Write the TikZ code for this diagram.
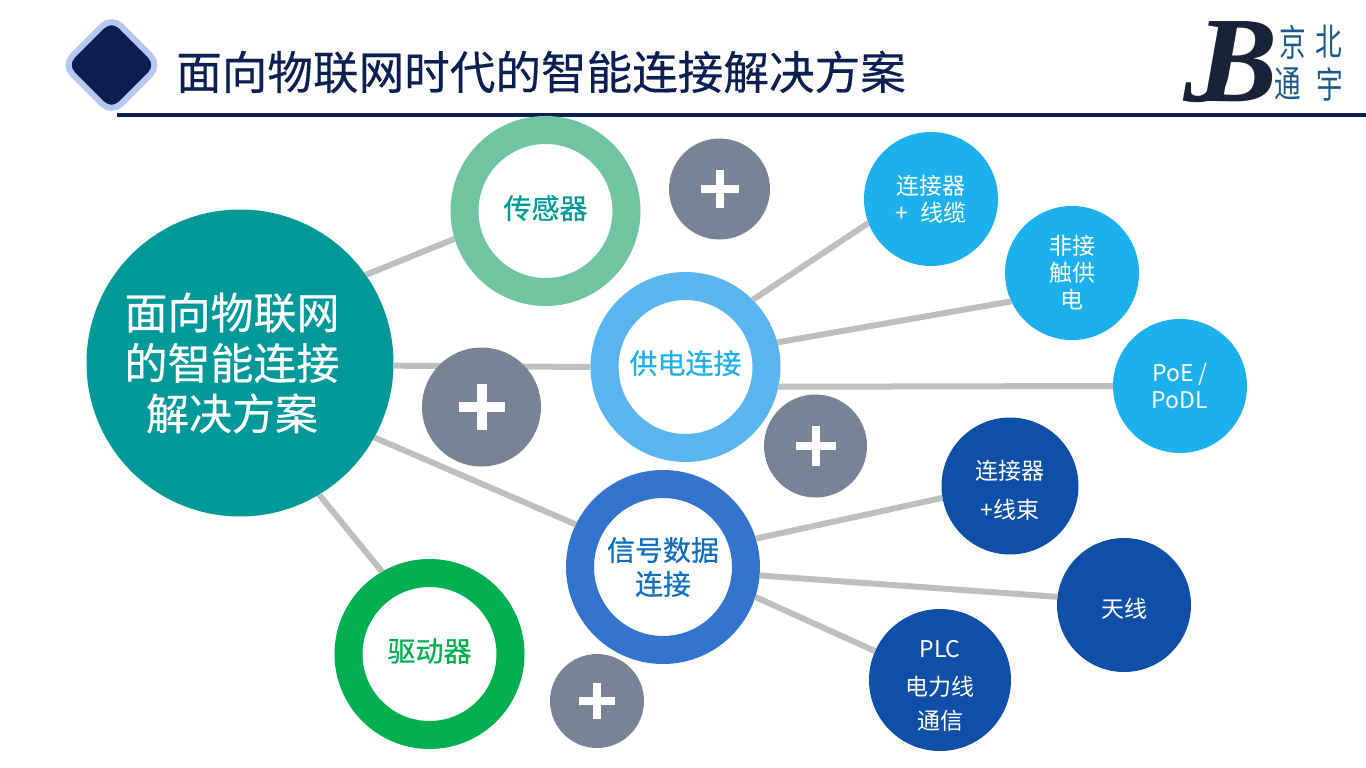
\documentclass[tikz,border=0pt]{standalone}
\usepackage{fontspec}
\setmainfont{Noto Sans CJK SC}
\newfontfamily\heavycjk[FakeBold=0.35]{Noto Sans CJK SC}
\newfontfamily\ringcjk[FakeBold=0.5]{Noto Sans CJK SC}
\newfontfamily\logocjk[FakeStretch=0.72]{Noto Sans CJK SC}
\newfontfamily\logoserif{Liberation Serif}
\usetikzlibrary{shapes.geometric}
\definecolor{navy}{HTML}{0B1F52}
\definecolor{diamondedge}{HTML}{B4C8F2}
\definecolor{hubteal}{HTML}{009999}
\definecolor{sensorgreen}{HTML}{70C5A0}
\definecolor{powerblue}{HTML}{5AB4EE}
\definecolor{signalblue}{HTML}{3374CF}
\definecolor{signaltext}{HTML}{0F6FBF}
\definecolor{drivegreen}{HTML}{00B050}
\definecolor{plusgray}{HTML}{788496}
\definecolor{skyleaf}{HTML}{1CB1ED}
\definecolor{deepleaf}{HTML}{0F4FA8}
\definecolor{linkgray}{HTML}{BFBFBF}
\definecolor{logoblue}{HTML}{1B5A85}
\definecolor{logodark}{HTML}{182338}
\newcommand{\tallstrut}[1]{\rule{0pt}{#1}}
\newcommand{\deepstrut}[1]{\rule[-#1]{0pt}{1pt}}
\tikzset{
  ring/.style={circle,fill=white,line width=28pt,minimum size=#1,inner sep=0pt,align=center,
    font=\ringcjk\fontsize{28}{34}\selectfont},
  leaf/.style={circle,minimum size=134pt,inner sep=0pt,text=white,align=center,
    font=\fontsize{23}{27}\selectfont},
  plussign/.style={circle,fill=plusgray,inner sep=0pt,minimum size=#1},
  logochar/.style={inner sep=0pt,text=logoblue,font=\logocjk\fontsize{37}{37}\selectfont},
  logoletter/.style={inner sep=0pt,text=logodark,font=\logoserif\bfseries\itshape\fontsize{122}{122}\selectfont},
  link/.style={draw=linkgray,line width=6pt}
}
\begin{document}
\begin{tikzpicture}[x=1pt,y=-1pt]
  \useasboundingbox (0,0) rectangle (1366,768);

  % Title bar
  \node (badge) [diamond,aspect=1,fill=navy,draw=diamondedge,line width=6pt,rounded corners=13pt,
    minimum size=99pt,inner sep=0pt] at (111.5,65) {};
  \node (title) [anchor=west,inner sep=0pt,text=navy,font=\heavycjk\fontsize{45.6}{50}\selectfont] at (176,72)
    {面向物联网时代的智能连接解决方案};
  \coordinate (ruleL) at (117,115);
  \coordinate (ruleR) at (1366,115);
  \draw[navy,line width=3.5pt] (ruleL) -- (ruleR);

  % Logo
  \node (logoJ) [logoletter] at (1214,62) {J};
  \node (logoB) [logoletter] at (1237,62) {B};
  \node (logoA) [logochar] at (1293,42) {京};
  \node (logoC) [logochar] at (1329,42) {北};
  \node (logoD) [logochar] at (1288,84) {通};
  \node (logoE) [logochar] at (1330,84) {宇};

  % Hub and rings
  \node (hub) [circle,fill=hubteal,minimum size=307pt,inner sep=0pt] at (240,363) {};
  \node (hublabel) [inner sep=0pt,text=white,align=center,
    font=\heavycjk\fontsize{43}{50.5}\selectfont] at (232,363) {面向物联网\\的智能连接\\解决方案};
  \node (sensor) [ring=162pt,draw=sensorgreen,text=hubteal] at (545.5,211) {传感器\deepstrut{8pt}};
  \node (power) [ring=162pt,draw=powerblue,text=skyleaf] at (685.5,367) {供电连接\deepstrut{10pt}};
  \node (signal) [ring=166pt,draw=signalblue,text=signaltext] at (663,567) {信号数据\\连接};
  \node (drive) [ring=162pt,draw=drivegreen,text=drivegreen] at (429.5,654) {驱动器\deepstrut{8pt}};

  % Leaves
  \node (cable) [leaf,fill=skyleaf] at (931,199) {连接器\\+\hspace{8pt} 线缆};
  \node (contactless) [leaf,fill=skyleaf] at (1072,273) {非接\\触供\\电};
  \node (poe) [leaf,fill=skyleaf] at (1180,386) {PoE /\\PoDL};
  \node (harness) [leaf,fill=deepleaf,minimum size=137pt,font=\fontsize{23}{39}\selectfont] at (1010,486) {\tallstrut{28pt}连接器\\+线束};
  \node (antenna) [leaf,fill=deepleaf] at (1124,605) {\tallstrut{27pt}天线};
  \node (plc) [leaf,fill=deepleaf,minimum size=142pt,font=\fontsize{23}{36}\selectfont] at (940,680) {\tallstrut{28pt}PLC\\[2pt]电力线\\[-2pt]通信};

  % Links
  \draw[link] (hub.35) -- (sensor.197);
  \draw[link] (hub.-1.5) -- (power.180);
  \draw[link] (hub.-29) -- (signal.154);
  \draw[link] (hub.-59) -- (drive.120);
  \draw[link] (power.45) -- (cable.201);
  \draw[link] (power.15) -- (contactless.205);
  \draw[link] (power.-12) -- (poe.180);
  \draw[link] (signal.17) -- (harness.190);
  \draw[link] (signal.-5) -- (antenna.173);
  \draw[link] (signal.-18) -- (plc.156);

  % Plus signs
  \foreach \name/\px/\py/\pr/\pf/\pw in {plusA/719.5/189/101/38/8,plusB/481.5/407/119/46/10,plusC/815.5/446/103/40/8,plusD/597/701/94/36/8}{
    \node (\name) [plussign=\pr pt] at (\px,\py) {};
    \fill[white] (\name.center) ++(-\pf/2,-\pw/2) rectangle ++(\pf,\pw);
    \fill[white] (\name.center) ++(-\pw/2,-\pf/2) rectangle ++(\pw,\pf);
  }
\end{tikzpicture}
\end{document}
